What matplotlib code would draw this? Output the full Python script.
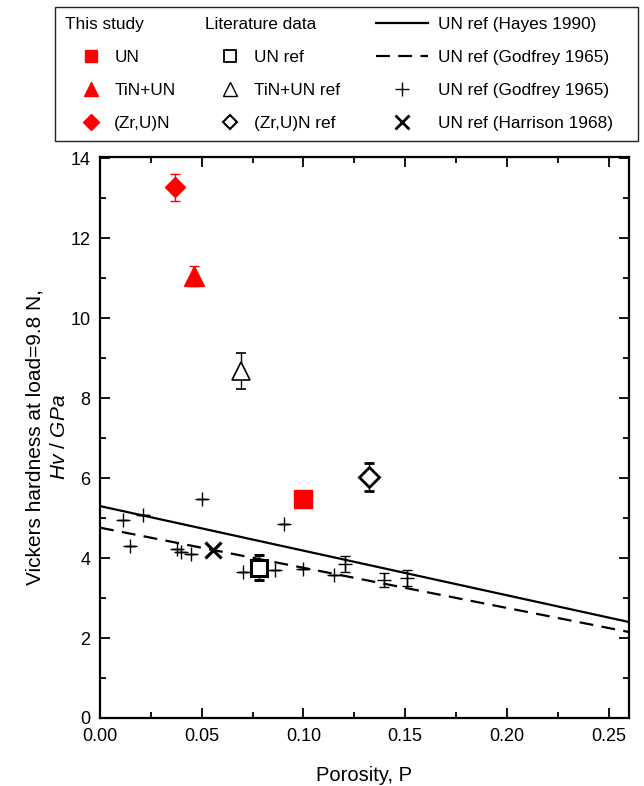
"""Vickers hardness of nitride fuels vs porosity."""
import numpy as np
import matplotlib
matplotlib.use('Agg')
from matplotlib import pyplot as plt
from matplotlib.lines import Line2D
from matplotlib.ticker import MultipleLocator

# This study (red, filled)
un_p, un_hv, un_err = [0.100], [5.47], [0.10]
tin_p, tin_hv, tin_err = [0.0463], [11.05], [0.25]
zr_p, zr_hv, zr_err = [0.037], [13.27], [0.34]

# Literature data (open)
unref_p, unref_hv, unref_err = [0.0783], [3.76], [0.32]
tinref_p, tinref_hv, tinref_err = [0.0692], [8.68], [0.45]
zrref_p, zrref_hv, zrref_err = [0.1324], [6.03], [0.35]

# Godfrey 1965 individual points
god_p = [0.0115, 0.0213, 0.0148, 0.050, 0.0377, 0.040, 0.0446, 0.0906,
         0.0705, 0.0861, 0.0997, 0.1148, 0.1206, 0.1394, 0.151]
god_hv = [4.95, 5.08, 4.30, 5.47, 4.23, 4.16, 4.10, 4.86,
          3.66, 3.70, 3.72, 3.58, 3.84, 3.45, 3.50]
god_err = [0, 0, 0, 0, 0, 0, 0, 0, 0, 0, 0, 0, 0.20, 0.18, 0.20]

# Harrison 1968
har_p, har_hv = [0.0554], [4.19]

# Fitted lines (end points)
hayes_p, hayes_hv = [0.0, 0.26], [5.30, 2.40]
godline_p, godline_hv = [0.0, 0.26], [4.76, 2.15]


def main():
    plt.rcParams['font.family'] = ['Liberation Sans', 'DejaVu Sans']
    plt.rcParams['mathtext.fontset'] = 'custom'
    plt.rcParams['mathtext.rm'] = 'Liberation Sans'
    plt.rcParams['mathtext.it'] = 'Liberation Sans:italic'
    plt.rcParams['lines.scale_dashes'] = False

    fig = plt.figure(figsize=(6.44, 7.86), dpi=100)
    ax = fig.add_axes([100 / 644, 68 / 786, 529 / 644, 561 / 786])

    h_hayes, = ax.plot(hayes_p, hayes_hv, 'k-', lw=1.6)
    h_godl, = ax.plot(godline_p, godline_hv, 'k', lw=1.6, dashes=(10, 6))

    eb = dict(capsize=3.5, elinewidth=1, capthick=1, linestyle='none')
    ax.errorbar(god_p, god_hv, yerr=god_err, fmt='+', color='k', ms=10,
                mew=1.0, **eb)
    ax.plot(har_p, har_hv, 'x', color='k', ms=12, mew=2.3)

    ax.errorbar(unref_p, unref_hv, yerr=unref_err, fmt='s', mfc='white',
                mec='k', ecolor='k', ms=11, mew=2.2, **eb)
    ax.errorbar(tinref_p, tinref_hv, yerr=tinref_err, fmt='^', mfc='white',
                mec='k', ecolor='k', ms=13, mew=1.2, **eb)
    ax.errorbar(zrref_p, zrref_hv, yerr=zrref_err, fmt='D', mfc='white',
                mec='k', ecolor='k', ms=10, mew=2.0, **eb)

    ax.errorbar(un_p, un_hv, yerr=un_err, fmt='s', color='red', ms=12.5, **eb)
    ax.errorbar(tin_p, tin_hv, yerr=tin_err, fmt='^', color='red', ms=14, **eb)
    ax.errorbar(zr_p, zr_hv, yerr=zr_err, fmt='D', color='red', ms=10.5, **eb)

    ax.set_xlim(0, 0.26)
    ax.set_ylim(0, 14.03)
    ax.xaxis.set_major_locator(MultipleLocator(0.05))
    ax.xaxis.set_minor_locator(MultipleLocator(0.025))
    ax.yaxis.set_major_locator(MultipleLocator(2))
    ax.yaxis.set_minor_locator(MultipleLocator(1))
    ax.xaxis.set_major_formatter(lambda v, pos: '{:.2f}'.format(v))
    ax.tick_params(which='both', direction='in', top=True, right=True,
                   width=1.3, labelsize=13)
    ax.tick_params(which='major', length=7, pad=7)
    ax.tick_params(which='minor', length=4)
    for s in ax.spines.values():
        s.set_linewidth(1.6)

    ax.set_xlabel('Porosity, P', fontsize=14.5, labelpad=15)
    ax.set_ylabel('Vickers hardness at load=9.8 N,\n$\\mathit{Hv}$ / $\\mathit{GPa}$',
                  fontsize=15, labelpad=1, linespacing=1.38)

    # Legend: three columns, first row of the first two holds a header
    blank = Line2D([], [], linestyle='none', marker='none')
    handles = [
        blank,
        Line2D([], [], ls='none', marker='s', color='red', ms=9),
        Line2D([], [], ls='none', marker='^', color='red', ms=10),
        Line2D([], [], ls='none', marker='D', color='red', ms=8),
        blank,
        Line2D([], [], ls='none', marker='s', mfc='white', mec='k', ms=8, mew=1.3),
        Line2D([], [], ls='none', marker='^', mfc='white', mec='k', ms=10, mew=1.0),
        Line2D([], [], ls='none', marker='D', mfc='white', mec='k', ms=7.5, mew=1.5),
        h_hayes, h_godl,
        Line2D([], [], ls='none', marker='+', color='k', ms=10, mew=1.0),
        Line2D([], [], ls='none', marker='x', color='k', ms=10, mew=2.0),
    ]
    labels = ['This study', 'UN', 'TiN+UN', '(Zr,U)N',
              'Literature data', 'UN ref', 'TiN+UN ref', '(Zr,U)N ref',
              'UN ref (Hayes 1990)', 'UN ref (Godfrey 1965)',
              'UN ref (Godfrey 1965)', 'UN ref (Harrison 1968)   ']
    fs = 12.4
    hl, tp = 3.0, 0.6
    leg = fig.legend(handles, labels, ncol=3, loc='upper left',
                     bbox_to_anchor=(55 / 644, 1 - 142 / 786, 583 / 644, 135 / 786),
                     mode='expand', fontsize=fs, frameon=True, fancybox=False,
                     edgecolor='#222222', framealpha=1, handlelength=hl,
                     handletextpad=tp, labelspacing=1.03, borderpad=0.6,
                     borderaxespad=0, columnspacing=1.0)
    leg.get_frame().set_linewidth(1.0)
    px = fig.dpi / 72
    shift = (hl + tp) * fs * px
    texts = leg.get_texts()
    for i in (0, 4):
        texts[i].set_position((-shift, 0))
    for i in (1, 2, 3, 5, 6, 7):
        texts[i].set_position((-13, 0))

    fig.savefig('out.png', dpi=100)


if __name__ == '__main__':
    main()
